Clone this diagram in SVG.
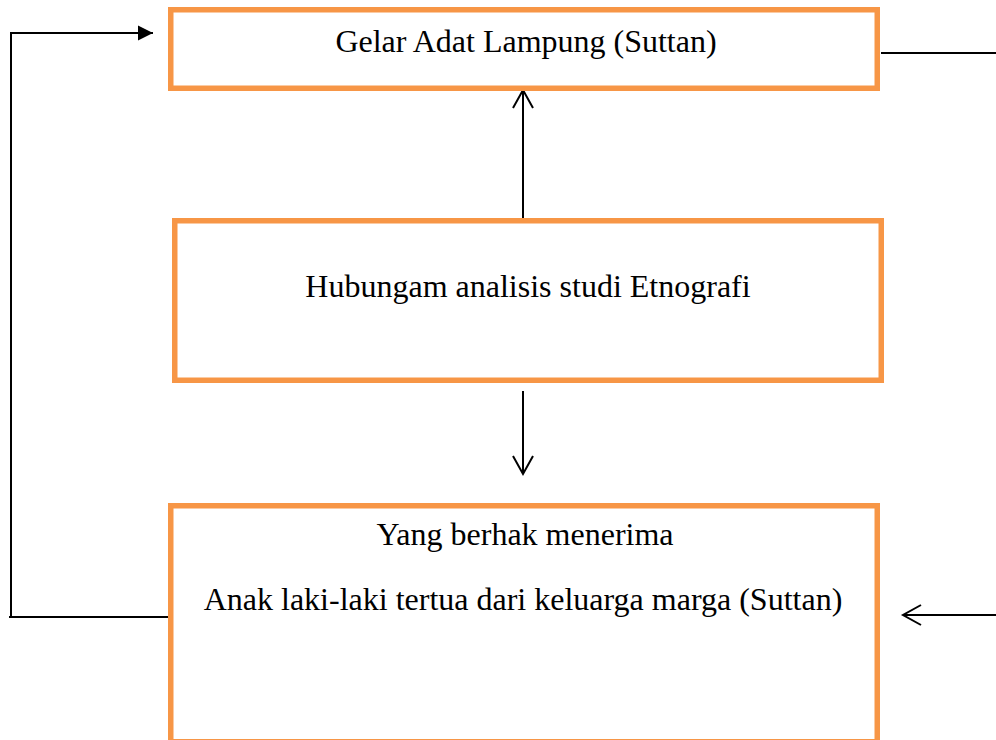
<svg xmlns="http://www.w3.org/2000/svg" width="996" height="740" viewBox="0 0 996 740">
  <style>
    .box { fill: #ffffff; stroke: #F79646; stroke-width: 5.5; }
    .lbl { font-family: "Liberation Serif", "Times New Roman", serif; font-size: 32px; fill: #000000; text-anchor: middle; }
    .con { fill: none; stroke: #000000; stroke-width: 2; }
  </style>
  <defs>
    <marker id="open" markerUnits="userSpaceOnUse" markerWidth="24" markerHeight="26" viewBox="0 0 24 26" refX="20" refY="12" orient="auto" overflow="visible">
      <path d="M2,2 L20,12 L2,22" fill="none" stroke="#000" stroke-width="2"/>
    </marker>
    <marker id="solid" markerUnits="userSpaceOnUse" markerWidth="16" markerHeight="16" viewBox="0 0 16 16" refX="15" refY="7.5" orient="auto" overflow="visible">
      <path d="M0,0 L15,7.5 L0,15 Z" fill="#000"/>
    </marker>
  </defs>
  <rect width="996" height="740" fill="#ffffff"/>

  <g id="connectors">
    <polyline class="con" points="170,617 9,617"/>
    <polyline class="con" points="11,618 11,33 153,33" marker-end="url(#solid)"/>
    <line class="con" x1="881" y1="53" x2="996" y2="53"/>
    <line class="con" x1="523" y1="220" x2="523" y2="90" marker-end="url(#open)"/>
    <line class="con" x1="523" y1="391" x2="523" y2="474" marker-end="url(#open)"/>
    <line class="con" x1="996" y1="615" x2="903" y2="615" marker-end="url(#open)"/>
  </g>

  <g id="node-gelar">
    <rect class="box" x="170.75" y="9.75" width="706.5" height="78.5"/>
    <text class="lbl" x="526" y="52">Gelar Adat Lampung (Suttan)</text>
  </g>

  <g id="node-hubungan">
    <rect class="box" x="174.75" y="220.75" width="706.5" height="159.5"/>
    <text class="lbl" x="528" y="297">Hubungam analisis studi Etnografi</text>
  </g>

  <g id="node-berhak">
    <rect class="box" x="170.75" y="505.75" width="706.5" height="236"/>
    <text class="lbl" x="525" y="545">Yang berhak menerima</text>
    <text class="lbl" x="523" y="610">Anak laki-laki tertua dari keluarga marga (Suttan)</text>
  </g>
</svg>
